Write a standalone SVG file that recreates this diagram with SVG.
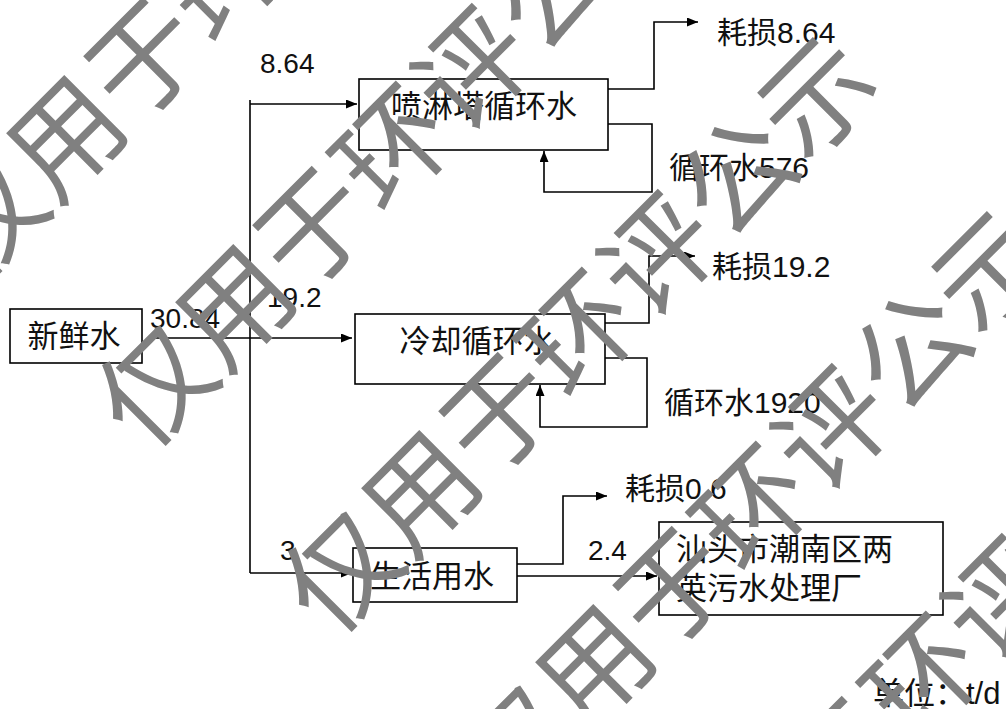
<svg xmlns="http://www.w3.org/2000/svg" width="1006" height="709" viewBox="0 0 1006 709">
<defs>
<style>
.box{fill:#fff;stroke:#000;stroke-width:1.6}
.ln{fill:none;stroke:#000;stroke-width:1.6}
.t{font-family:"Liberation Sans","Noto Sans CJK SC",sans-serif;font-size:31px;fill:#111}
.n{font-family:"Liberation Sans","Noto Sans CJK SC",sans-serif;font-size:28px;fill:#111}
.m{font-family:"Liberation Sans","Noto Sans CJK SC",sans-serif;font-size:30px;fill:#111}
.wm{font-family:"Noto Sans CJK SC",sans-serif;font-size:112px;fill:#808080}
</style>
<marker id="ah" markerUnits="userSpaceOnUse" markerWidth="11" markerHeight="9" refX="11" refY="4.5" orient="auto">
<path d="M0,0 L11,4.5 L0,9 z" fill="#000"/>
</marker>
</defs>
<rect width="1006" height="709" fill="#fff"/>

<g id="connectors">
<path class="ln" d="M250,100 V573"/>
<path class="ln" d="M152,338 H352" marker-end="url(#ah)"/>
<path class="ln" d="M250,104 H357" marker-end="url(#ah)"/>
<path class="ln" d="M250,573 H352" marker-end="url(#ah)"/>
<path class="ln" d="M608,89 H654 V22 H698" marker-end="url(#ah)"/>
<path class="ln" d="M608,124 H652 V192 H544 V151" marker-end="url(#ah)"/>
<path class="ln" d="M605,323 H649 V256 H695" marker-end="url(#ah)"/>
<path class="ln" d="M605,358 H647 V427 H540 V385" marker-end="url(#ah)"/>
<path class="ln" d="M517,564 H563 V496 H607" marker-end="url(#ah)"/>
<path class="ln" d="M517,576 H657" marker-end="url(#ah)"/>
<text class="n" x="260" y="73">8.64</text>
<text class="n" x="150" y="328">30.84</text>
<text class="n" x="267" y="307">19.2</text>
<text class="n" x="280" y="560">3</text>
<text class="n" x="588" y="560">2.4</text>
<text class="m" x="717" y="43">耗损8.64</text>
<text class="m" x="669" y="178">循环水576</text>
<text class="m" x="712" y="277">耗损19.2</text>
<text class="m" x="664" y="413">循环水1920</text>
<text class="m" x="625" y="499">耗损0.6</text>
</g>

<g id="n-fresh">
<rect class="box" x="10" y="309" width="132" height="54"/>
<text class="t" x="74" y="347" text-anchor="middle">新鲜水</text>
</g>
<g id="n-spray">
<rect class="box" x="359" y="79" width="249" height="71"/>
<text class="t" x="484" y="117" text-anchor="middle">喷淋塔循环水</text>
</g>
<g id="n-cool">
<rect class="box" x="355" y="314" width="250" height="70"/>
<text class="t" x="477" y="352" text-anchor="middle">冷却循环水</text>
</g>
<g id="n-life">
<rect class="box" x="353" y="548" width="164" height="54"/>
<text class="t" x="432" y="587" text-anchor="middle">生活用水</text>
</g>
<g id="n-plant">
<rect class="box" x="659" y="522" width="284" height="93"/>
<text class="t" x="676" y="560">汕头市潮南区两</text>
<text class="t" x="676" y="599">英污水处理厂</text>
</g>
<g id="unit">
<text class="t" x="873" y="704">单位：t/d</text>
</g>

<g id="watermark" class="wm">
<text transform="translate(60,132) rotate(-45)" x="-168" y="0" dominant-baseline="central">仅用于环评公示</text>
<text transform="translate(229,301) rotate(-45)" x="-168" y="0" dominant-baseline="central">仅用于环评公示</text>
<text transform="translate(415,487) rotate(-45)" x="-168" y="0" dominant-baseline="central">仅用于环评公示</text>
<text transform="translate(589,661) rotate(-45)" x="-168" y="0" dominant-baseline="central">仅用于环评公示</text>
<text transform="translate(759,831) rotate(-45)" x="-168" y="0" dominant-baseline="central">仅用于环评公示</text>
</g>
</svg>
